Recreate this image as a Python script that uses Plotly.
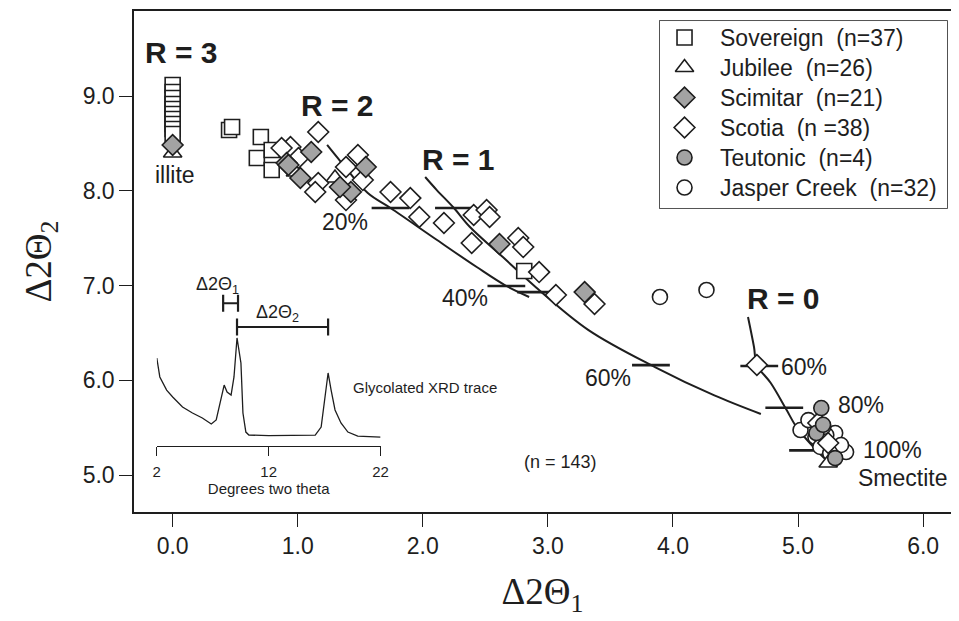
import plotly.graph_objects as go

# ---------------- data ----------------
sov_x = [0, 0, 0, 0, 0, 0, 0, 0, 0, 0, 0.451, 0.475, 0.705, 0.673, 0.792, 0.792, 2.811]
sov_y = [9.116, 9.042, 8.979, 8.916, 8.863, 8.810, 8.757, 8.704, 8.652, 8.599,
         8.641, 8.673, 8.567, 8.346, 8.430, 8.219, 7.153]

jub_x = [0, 0.982, 1.298, 5.241]
jub_y = [8.398, 8.198, 8.135, 5.127]

sci_x = [0, 1.108, 0.911, 1.021, 1.544, 1.425, 1.338, 0.926, 2.613, 3.294]
sci_y = [8.483, 8.409, 8.293, 8.135, 8.251, 7.987, 8.040, 8.272, 7.438, 6.931]

sco_x = [1.164, 0.942, 0.871, 1.481, 1.386, 1.006, 1.164, 1.140, 1.386, 1.520, 1.742,
         1.900, 1.972, 2.169, 2.407, 2.510, 2.534, 2.391, 2.763, 2.803, 2.930, 3.064,
         3.373, 4.671, 5.162, 5.241]
sco_y = [8.620, 8.462, 8.451, 8.377, 8.251, 8.346, 8.082, 7.987, 7.902, 8.113, 7.987,
         7.923, 7.723, 7.660, 7.744, 7.797, 7.723, 7.449, 7.501, 7.406, 7.142, 6.900,
         6.805, 6.161, 5.549, 5.338]

teu_x = [5.186, 5.147, 5.297, 5.200]
teu_y = [5.707, 5.443, 5.179, 5.530]

jas_x = [3.896, 4.268, 5.020, 5.083, 5.297, 5.384, 5.226, 5.202, 5.344, 5.139, 5.178, 5.257]
jas_y = [6.879, 6.953, 5.475, 5.580, 5.443, 5.243, 5.422, 5.507, 5.317, 5.401, 5.296, 5.232]

# model curves
r2_x = [1.235, 1.346, 1.560, 1.742, 2.114, 2.431, 2.668, 2.850]
r2_y = [8.483, 8.303, 7.976, 7.818, 7.480, 7.195, 6.995, 6.879]
r1_x = [2.019, 2.110, 2.249, 2.375, 2.640, 2.906, 3.325, 3.856, 4.331, 4.703]
r1_y = [8.145, 8.010, 7.818, 7.620, 7.300, 6.980, 6.530, 6.140, 5.840, 5.644]
r0_x = [4.600, 4.648, 4.671, 4.782, 4.909, 4.988, 5.123, 5.226]
r0_y = [6.668, 6.351, 6.161, 5.971, 5.686, 5.506, 5.296, 5.158]

# composition tick marks on the model curves
tick_x = [1.742, 2.668, 2.249, 2.906, 3.824, 4.690, 4.890, 5.080]
tick_y = [7.818, 6.995, 7.818, 6.930, 6.160, 6.150, 5.710, 5.260]

# inset: glycolated XRD trace (degrees two theta, relative intensity)
xrd_deg = [2.0, 2.27, 2.88, 3.42, 4.30, 5.19, 6.07, 6.87, 7.31, 7.75, 8.02, 8.28, 8.64,
           8.90, 9.17, 9.52, 9.70, 9.96, 10.23, 12.0, 14.0, 16.16, 16.69, 17.04, 17.31,
           17.58, 17.93, 18.46, 19.08, 19.96, 22.0]
xrd_int = [0.530, 0.416, 0.337, 0.295, 0.235, 0.199, 0.169, 0.133, 0.157, 0.277, 0.367,
           0.325, 0.307, 0.416, 0.651, 0.500, 0.199, 0.084, 0.066, 0.063, 0.064, 0.066,
           0.114, 0.295, 0.440, 0.337, 0.217, 0.139, 0.084, 0.060, 0.054]
br1_x = [7.93, 9.26]
br1_y = [0.86, 0.86]
br2_x = [9.17, 17.31]
br2_y = [0.717, 0.717]

x_ticks = [0, 1, 2, 3, 4, 5, 6]
x_ticktext = ["0.0", "1.0", "2.0", "3.0", "4.0", "5.0", "6.0"]
y_ticks = [5, 6, 7, 8, 9]
y_ticktext = ["5.0", "6.0", "7.0", "8.0", "9.0"]

legend_names = ["Sovereign  (n=37)", "Jubilee  (n=26)", "Scimitar  (n=21)",
                "Scotia  (n =38)", "Teutonic  (n=4)", "Jasper Creek  (n=32)"]
legend_rows = [0, 1, 2, 3, 4, 5]

# ---------------- figure ----------------
SANS = "Liberation Sans, Arial, Helvetica, sans-serif"
SERIF = "Liberation Serif, Times New Roman, serif"
INK = "#1e1e1e"
GRAY = "#a3a3a3"

styles = [("square", "white", 15), ("triangle-up", "white", 16), ("diamond", GRAY, 16),
          ("diamond", "white", 16), ("circle", GRAY, 15), ("circle", "white", 15)]

fig = go.Figure()

for cx, cy in [(r2_x, r2_y), (r1_x, r1_y), (r0_x, r0_y)]:
    fig.add_trace(go.Scatter(x=cx, y=cy, mode="lines", line=dict(color=INK, width=2, shape="spline"),
                             showlegend=False, hoverinfo="skip"))

fig.add_trace(go.Scatter(x=tick_x, y=tick_y, mode="markers",
                         marker=dict(symbol="line-ew", size=27, line=dict(width=2.6, color=INK)),
                         showlegend=False, hoverinfo="skip"))

def pts(x, y, name, k):
    sym, fill, size = styles[k]
    return go.Scatter(x=x, y=y, mode="markers", name=name, showlegend=False,
                      marker=dict(symbol=sym, size=size, color=fill,
                                  line=dict(color=INK, width=1.6)))

fig.add_trace(pts(jas_x, jas_y, legend_names[5], 5))
fig.add_trace(pts(sov_x, sov_y, legend_names[0], 0))
fig.add_trace(pts(jub_x, jub_y, legend_names[1], 1))
fig.add_trace(pts(sco_x, sco_y, legend_names[3], 3))
fig.add_trace(pts(sci_x, sci_y, legend_names[2], 2))
fig.add_trace(pts(teu_x, teu_y, legend_names[4], 4))

# legend key symbols (own small axis inside the legend box)
for k, row in enumerate(legend_rows):
    sym, fill, size = styles[k]
    fig.add_trace(go.Scatter(x=[0.086], y=[row], mode="markers", xaxis="x3", yaxis="y3",
                             marker=dict(symbol=sym, size=size, color=fill,
                                         line=dict(color=INK, width=1.6)),
                             showlegend=False, hoverinfo="skip"))

# inset
fig.add_trace(go.Scatter(x=xrd_deg, y=xrd_int, mode="lines", xaxis="x2", yaxis="y2",
                         line=dict(color=INK, width=1.3), showlegend=False, hoverinfo="skip"))
for bx, by in [(br1_x, br1_y), (br2_x, br2_y)]:
    fig.add_trace(go.Scatter(x=bx, y=by, mode="lines+markers", xaxis="x2", yaxis="y2",
                             line=dict(color=INK, width=2),
                             marker=dict(symbol="line-ns", size=12, line=dict(width=2.2, color=INK)),
                             showlegend=False, hoverinfo="skip"))

ann = []
def txt(x, y, s, size, bold=False, xanchor="center", xref="x", yref="y", font=SANS):
    ann.append(dict(x=x, y=y, xref=xref, yref=yref, text=("<b>%s</b>" % s) if bold else s,
                    showarrow=False, xanchor=xanchor, yanchor="middle",
                    font=dict(family=font, size=size, color=INK)))

txt(0.071, 9.454, "R = 3", 30, True)
txt(1.314, 8.905, "R = 2", 30, True)
txt(2.288, 8.325, "R = 1", 30, True)
txt(4.885, 6.868, "R = 0", 30, True)
txt(0.016, 8.166, "illite", 23)
txt(1.378, 7.670, "20%", 23)
txt(2.336, 6.868, "40%", 23)
txt(3.480, 6.024, "60%", 23)
txt(5.050, 6.140, "60%", 23)
txt(5.500, 5.739, "80%", 23)
txt(5.755, 5.264, "100%", 23)
txt(5.835, 4.968, "Smectite", 23)
txt(3.104, 5.137, "(n = 143)", 18)
txt(7.4, 0.964, "Δ2Θ<sub>1</sub>", 18, xref="x2", yref="y2")
txt(12.8, 0.80, "Δ2Θ<sub>2</sub>", 18, xref="x2", yref="y2")
txt(19.35, 0.35, "Glycolated XRD trace", 15, xanchor="left", xref="x2", yref="y2")
for name, row in zip(legend_names, legend_rows):
    txt(0.203, row, name, 23, xanchor="left", xref="x3", yref="y3")

fig.update_layout(
    width=959, height=621,
    margin=dict(l=134, r=0, t=11, b=109),
    paper_bgcolor="white", plot_bgcolor="white",
    font=dict(family=SANS, color=INK),
    annotations=ann,
    showlegend=False,
    shapes=[dict(type="rect", xref="paper", yref="paper", x0=0.6436, x1=0.9952, y0=0.6068, y1=0.980,
                 line=dict(color=INK, width=1.5), fillcolor="white", layer="below")],
    xaxis=dict(range=[-0.309, 6.223], tickvals=x_ticks, ticktext=x_ticktext,
               showline=True, linecolor=INK, linewidth=1.5, mirror=True,
               ticks="outside", ticklen=13, tickwidth=1.3, tickcolor=INK,
               showgrid=False, zeroline=False,
               tickfont=dict(size=23, family=SANS, color=INK),
               title=dict(text="Δ2Θ<sub>1</sub>", font=dict(family=SERIF, size=37, color=INK), standoff=20)),
    yaxis=dict(range=[4.61, 9.897], tickvals=y_ticks, ticktext=y_ticktext,
               showline=True, linecolor=INK, linewidth=1.5, mirror=False,
               ticks="outside", ticklen=13, tickwidth=1.3, tickcolor=INK,
               showgrid=False, zeroline=False,
               tickfont=dict(size=23, family=SANS, color=INK),
               title=dict(text="Δ2Θ<sub>2</sub>", font=dict(family=SERIF, size=37, color=INK), standoff=20)),
    xaxis2=dict(domain=[0.0279, 0.3018], anchor="y2", range=[2, 22], tickvals=[2, 12, 22],
                showline=True, linecolor=INK, linewidth=1.3, ticks="outside", ticklen=9,
                tickwidth=1.3, tickcolor=INK, showgrid=False, zeroline=False, ticklabelstandoff=3,
                tickfont=dict(size=15, family=SANS, color=INK),
                title=dict(text="Degrees two theta", font=dict(size=15, family=SANS, color=INK), standoff=4)),
    yaxis2=dict(domain=[0.1317, 0.4631], anchor="x2", range=[0, 1], visible=False),
    xaxis3=dict(domain=[0.6436, 0.9952], anchor="y3", range=[0, 1], visible=False, fixedrange=True),
    yaxis3=dict(domain=[0.6068, 0.980], anchor="x3", range=[5.683, -0.55], visible=False, fixedrange=True),
)

fig.write_html("out.html")
